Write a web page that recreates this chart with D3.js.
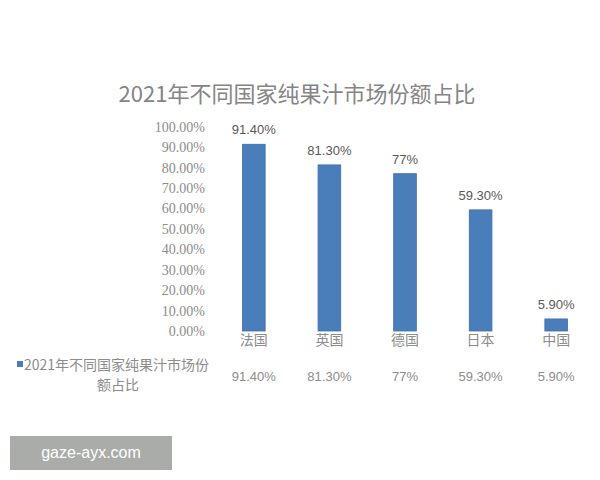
<!DOCTYPE html>
<html>
<head>
<meta charset="utf-8">
<script src="https://cdn.jsdelivr.net/npm/d3@7"></script>
<style>
  body { margin: 0; background: #fff; }
  svg { display: block; }
</style>
</head>
<body>
<div id="chart"></div>
<script>
// categories and values
var countries = ['法国', '英国', '德国', '日本', '中国'];
var shares = [0.914, 0.813, 0.77, 0.593, 0.059];
var shareLabels = ['91.40%', '81.30%', '77%', '59.30%', '5.90%'];
var yTicks = [0, 0.1, 0.2, 0.3, 0.4, 0.5, 0.6, 0.7, 0.8, 0.9, 1];
var seriesName = '2021年不同国家纯果汁市场份额占比';

var width = 600, height = 480;
var barColor = '#4a7ebb';
var cjk = '"Noto Sans CJK SC", "Noto Sans", sans-serif';

var svg = d3.select('#chart').append('svg')
  .attr('width', width)
  .attr('height', height);

svg.append('rect').attr('width', width).attr('height', height).attr('fill', '#fff');

// title
svg.append('text')
  .attr('x', 297)
  .attr('y', 102)
  .attr('text-anchor', 'middle')
  .attr('fill', '#858585')
  .style('font-family', cjk)
  .style('font-size', '22px')
  .text(seriesName);

var x = d3.scaleBand()
  .domain(countries)
  .range([216, 594])
  .paddingInner(0.7)
  .paddingOuter(0.35);

var y = d3.scaleLinear()
  .domain([0, 1])
  .range([331, 126.7]);

// y axis (labels only, no line)
var yAxis = svg.append('g')
  .attr('transform', 'translate(205,0)')
  .call(d3.axisLeft(y).tickValues(yTicks).tickSize(0).tickPadding(0)
    .tickFormat(function(d) { return d3.format('.2%')(d); }));
yAxis.select('.domain').remove();
yAxis.selectAll('text')
  .attr('fill', '#8c8c8c')
  .style('font-family', '"Liberation Serif", serif')
  .style('font-size', '14px');

// bars
svg.append('g').selectAll('rect')
  .data(shares)
  .enter().append('rect')
  .attr('x', function(d, i) { return x(countries[i]); })
  .attr('y', function(d) { return y(d); })
  .attr('width', x.bandwidth())
  .attr('height', function(d) { return y(0) - y(d); })
  .attr('fill', barColor)
  .attr('stroke', '#3d6ea8')
  .attr('stroke-width', 0.8);

// value labels above bars
svg.append('g').selectAll('text')
  .data(shares)
  .enter().append('text')
  .attr('x', function(d, i) { return x(countries[i]) + x.bandwidth() / 2; })
  .attr('y', function(d) { return y(d) - 10; })
  .attr('text-anchor', 'middle')
  .attr('fill', '#595959')
  .style('font-family', '"Liberation Sans", sans-serif')
  .style('font-size', '13px')
  .text(function(d, i) { return shareLabels[i]; });

// category axis (labels only)
var xAxis = svg.append('g')
  .attr('transform', 'translate(0,335)')
  .call(d3.axisBottom(x).tickSize(0).tickPadding(0));
xAxis.select('.domain').remove();
xAxis.selectAll('text')
  .attr('dy', '0.71em')
  .attr('fill', '#8c8c8c')
  .style('font-family', cjk)
  .style('font-size', '14px');

// data table row
svg.append('rect')
  .attr('x', 17).attr('y', 361)
  .attr('width', 6).attr('height', 6)
  .attr('fill', barColor);

var legendText = svg.append('text')
  .attr('fill', '#8c8c8c')
  .style('font-family', cjk)
  .style('font-size', '14px');
legendText.append('tspan').attr('x', 24).attr('y', 370).text('2021年不同国家纯果汁市场份');
legendText.append('tspan').attr('x', 118).attr('y', 390).attr('text-anchor', 'middle').text('额占比');

svg.append('g').selectAll('text')
  .data(shares)
  .enter().append('text')
  .attr('x', function(d, i) { return x(countries[i]) + x.bandwidth() / 2; })
  .attr('y', 381)
  .attr('text-anchor', 'middle')
  .attr('fill', '#8c8c8c')
  .style('font-family', '"Liberation Sans", sans-serif')
  .style('font-size', '13px')
  .text(function(d, i) { return shareLabels[i]; });

// watermark box
svg.append('rect')
  .attr('x', 10).attr('y', 436)
  .attr('width', 162).attr('height', 34)
  .attr('fill', '#a9aca8');
svg.append('text')
  .attr('x', 91).attr('y', 458)
  .attr('text-anchor', 'middle')
  .attr('fill', '#fff')
  .style('font-family', '"Liberation Sans", sans-serif')
  .style('font-size', '16px')
  .text('gaze-ayx.com');
</script>
</body>
</html>
